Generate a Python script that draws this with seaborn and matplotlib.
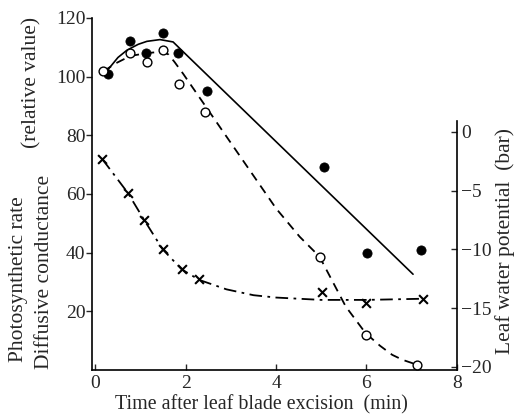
import matplotlib
matplotlib.use("Agg")
import matplotlib.pyplot as plt
import seaborn as sns

# --- data ---
# photosynthetic rate (filled circles, left axis, relative value)
photo_t = [0.28, 0.76, 1.12, 1.50, 1.83, 2.48, 5.07, 6.01, 7.21]
photo_v = [101, 112, 108, 115, 108, 95, 69, 40, 41]
# diffusive conductance (open circles, left axis)
cond_t = [0.16, 0.77, 1.14, 1.50, 1.86, 2.42, 4.97, 5.98, 7.12]
cond_v = [102, 108, 105, 109, 97.5, 88, 38.5, 12, 1.7]
# leaf water potential (crosses, right axis, bar)
psi_t = [0.15, 0.72, 1.08, 1.49, 1.91, 2.30, 5.02, 6.00, 7.25]
psi_v = [-2.3, -5.2, -7.5, -10.0, -11.7, -12.5, -13.6, -14.6, -14.2]

# hand-drawn fitted curves
photo_curve_t = [0.26, 0.50, 0.70, 0.95, 1.14, 1.43, 1.72, 1.94, 7.03]
photo_curve_v = [102, 106.5, 109, 111, 112, 112.6, 111.8, 108.5, 32.6]
cond_curve_t = [0.18, 0.45, 0.77, 1.14, 1.50, 1.62, 1.75, 1.94, 4.00, 4.52, 4.96, 5.54, 5.98, 6.30, 6.57, 6.80, 7.01, 7.12]
cond_curve_v = [101.8, 104.5, 107, 108, 108.5, 107.5, 105, 101, 55, 45.4, 38.6, 21.6, 12.5, 8.2, 5.1, 3.4, 2.3, 1.7]
psi_curve_t = [0.15, 0.72, 1.08, 1.49, 1.91, 2.30, 2.90, 3.50, 4.00, 5.00, 6.00, 7.25]
psi_curve_v = [-2.3, -5.2, -7.5, -10.0, -11.7, -12.6, -13.4, -13.9, -14.1, -14.3, -14.3, -14.2]

left_ticks = [20, 40, 60, 80, 100, 120]
right_ticks = [-20, -15, -10, -5, 0]
x_ticks = [0, 2, 4, 6, 8]

sns.set_style("ticks")
plt.rcParams["font.family"] = ["Liberation Serif", "DejaVu Serif"]
plt.rcParams["font.size"] = 14

fig = plt.figure(figsize=(5.18, 4.16), dpi=100)
ax = fig.add_axes([0.178, 0.111, 0.704, 0.846])
ax2 = ax.twinx()

# curves
sns.lineplot(x=photo_curve_t, y=photo_curve_v, ax=ax, color="black", lw=1.2,
             sort=False, estimator=None)
sns.lineplot(x=cond_curve_t, y=cond_curve_v, ax=ax, color="black", lw=1.3,
             sort=False, estimator=None, linestyle=(0, (5, 3.5)))
sns.lineplot(x=psi_curve_t, y=psi_curve_v, ax=ax2, color="black", lw=1.3,
             sort=False, estimator=None, linestyle=(0, (7, 3, 1.5, 3)))

# points
sns.scatterplot(x=photo_t, y=photo_v, ax=ax, color="black", s=44,
                marker="o", edgecolor="black", zorder=5)
sns.scatterplot(x=cond_t, y=cond_v, ax=ax, facecolor="white", s=40,
                marker="o", edgecolor="black", linewidth=1.0, zorder=5)
sns.scatterplot(x=psi_t, y=psi_v, ax=ax2, color="black", s=40,
                marker="x", linewidth=1.5, zorder=5)

ax.set_xlim(-0.07, 8.0)
ax.set_ylim(0, 120)
ax2.set_ylim(-20.25, 9.7)

ax.set_xticks(x_ticks)
ax.set_yticks(left_ticks)
ax2.set_yticks(right_ticks)

for s in ["top", "right"]:
    ax.spines[s].set_visible(False)
for s in ["top", "left", "bottom"]:
    ax2.spines[s].set_visible(False)
ax.spines["left"].set_bounds(0, 120)
ax2.spines["right"].set_bounds(-20.25, 0.9)
for sp in list(ax.spines.values()) + list(ax2.spines.values()):
    sp.set_linewidth(1.2)
    sp.set_color("black")

ax.tick_params(axis="x", direction="in", length=4, width=1, pad=4, labelsize=14)
ax.tick_params(axis="y", direction="out", length=4, width=1, pad=1, labelsize=14)
ax2.tick_params(axis="y", direction="in", length=4, width=1, pad=3, labelsize=14)

ax.set_xlabel("")
ax.set_ylabel("")
ax2.set_ylabel("")

# axis titles
fig.text(0.504, 0.026, "Time after leaf blade excision  (min)", ha="center", va="center",
         fontsize=14.4)
fig.text(0.035, 0.329, "Photosynthetic rate", rotation=90, ha="center", va="center",
         fontsize=15.5)
fig.text(0.085, 0.346, "Diffusive conductance", rotation=90, ha="center", va="center",
         fontsize=15.5)
fig.text(0.062, 0.803, "(relative value)", rotation=90, ha="center", va="center",
         fontsize=15.5)
fig.text(0.975, 0.42, "Leaf water potential  (bar)", rotation=90, ha="center", va="center",
         fontsize=15.5)

fig.savefig("out.png", dpi=100)
